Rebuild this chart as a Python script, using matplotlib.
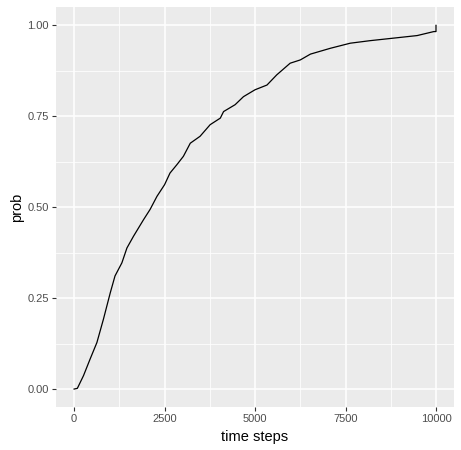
import numpy as np
import matplotlib
matplotlib.use("Agg")
from matplotlib import pyplot as plt
from matplotlib.ticker import MultipleLocator

plt.rcParams['font.family'] = ['Liberation Sans', 'DejaVu Sans']

# values
steps = [0, 90, 260, 440, 630, 810, 1000, 1130, 1320, 1460, 1640, 1920,
         2100, 2290, 2500, 2650, 2840, 3020, 3210, 3480, 3760, 4040, 4130,
         4450, 4680, 5000, 5330, 5600, 5970, 6250, 6530, 7080, 7630, 8180,
         8740, 9480, 9940, 10000, 10000]
prob = [0.0, 0.002, 0.037, 0.082, 0.128, 0.192, 0.265, 0.311, 0.347, 0.388,
        0.420, 0.466, 0.494, 0.530, 0.562, 0.594, 0.617, 0.640, 0.676, 0.695,
        0.727, 0.745, 0.763, 0.782, 0.804, 0.823, 0.836, 0.864, 0.896, 0.905,
        0.921, 0.937, 0.951, 0.958, 0.964, 0.972, 0.983, 0.983, 1.0]

x_ticks = [0, 2500, 5000, 7500, 10000]
y_ticks = [0.0, 0.25, 0.5, 0.75, 1.0]

fig = plt.figure(figsize=(4.61, 4.5), dpi=100)
ax = fig.add_axes([0.1215, 0.095, 0.8635, 0.889])
ax.set_facecolor("#EBEBEB")

ax.plot(steps, prob, color="black", lw=0.9, zorder=3)

ax.set_xlim(-500, 10500)
ax.set_ylim(-0.05, 1.05)
ax.set_xticks(x_ticks)
ax.set_yticks(y_ticks)
ax.set_xticklabels([str(t) for t in x_ticks])
ax.set_yticklabels(["%.2f" % t for t in y_ticks])
ax.xaxis.set_minor_locator(MultipleLocator(1250))
ax.yaxis.set_minor_locator(MultipleLocator(0.125))

ax.grid(which="major", color="white", lw=1.1, zorder=0)
ax.grid(which="minor", color="white", lw=0.55, zorder=0)
ax.set_axisbelow(True)
for s in ax.spines.values():
    s.set_visible(False)

ax.tick_params(which="major", length=3, width=0.8, color="#333333",
               labelsize=8, labelcolor="#4D4D4D", pad=2)
ax.tick_params(which="minor", length=0)

ax.set_xlabel("time steps", fontsize=10.5, labelpad=4)
ax.set_ylabel("prob", fontsize=10.5, labelpad=2.5)

plt.savefig("out.png", dpi=100)
plt.close(fig)
